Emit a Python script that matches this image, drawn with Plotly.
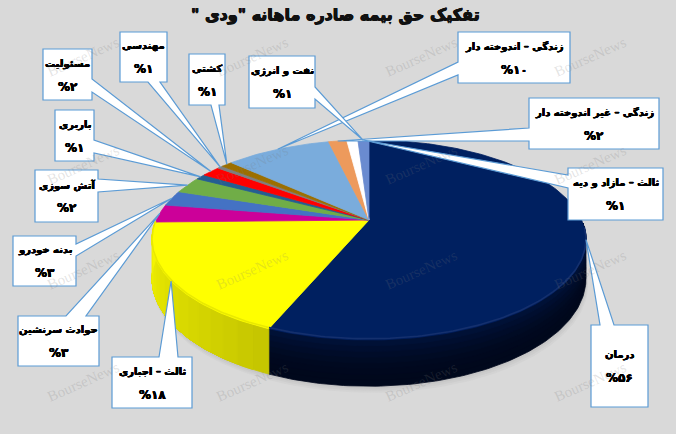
import math
import plotly.graph_objects as go

TITLE = 'تفکیک حق بیمه صادره ماهانه "ودی "\u200f'

# Slices, clockwise from the top of the pie
names = ["درمان", "ثالث – اجباری", "حوادث سرنشین", "بدنه خودرو", "آتش سوزی", "باربری",
         "مسئولیت", "مهندسی", "کشتی", "زندگی – اندوخته دار", "زندگی – غیر اندوخته دار",
         "نفت و انرژی", "ثالث – مازاد و دیه"]
shown = ["%۵۶", "%۱۸", "%۳", "%۳", "%۲", "%۱", "%۲", "%۱", "%۱", "%۱۰", "%۲", "%۱", "%۱"]
values = [56.3, 18.4, 2.9, 2.5, 2.7, 0.9, 1.7, 0.5, 1.0, 9.5, 1.65, 1.0, 1.0]
colors = ["#002060", "#ffff00", "#cc0099", "#4472c4", "#70ad47", "#255e91", "#ff0000",
          "#7f7f7f", "#9c6f00", "#7aacdc", "#ed9a5c", "#ffffff", "#6a8bd0"]

# Callout boxes: x0, y0, x1, y1, and the two points where the pointer leaves the box
boxes = [
    (591, 325, 648, 407, (600, 325), (614, 325)),
    (112, 357, 192, 408, (159, 357), (178, 357)),
    (18, 316, 99, 366, (66, 316), (86, 316)),
    (13, 236, 76, 286, (76, 244), (76, 256)),
    (35, 170, 98, 222, (98, 179), (98, 192)),
    (55, 110, 94, 161, (94, 140), (94, 153)),
    (43, 49, 92, 100, (92, 79), (92, 92)),
    (120, 32, 167, 82, (148, 82), (160, 82)),
    (189, 54, 225, 105, (211, 105), (219, 105)),
    (458, 32, 570, 83, (458, 62), (458, 75)),
    (529, 98, 659, 149, (529, 128), (529, 141)),
    (249, 56, 315, 108, (315, 87), (315, 99)),
    (568, 168, 663, 220, (568, 175), (568, 188)),
]
tip_shift = [0, 0, 0, 0, 0, 0, 0, 0, 0, 0, 0, 11, 0]

CX, CY = 369.0, 220.0
A, B, K = 212.6, 96.0, 0.2
DEPTH = 37.0

THICK = "0.35px 0 0 #000, -0.35px 0 0 #000, 0 0.3px 0 #000, 0 -0.3px 0 #000"
THICK_T = "0.5px 0 0 #111, -0.5px 0 0 #111, 0 0.5px 0 #111, 0 -0.5px 0 #111"


def rim(deg, depth=0.0):
    t = math.radians(deg)
    u, v = math.sin(t), math.cos(t)
    s = 1.0 / (1.0 + K * v)
    return CX + A * u * s, CY - B * v * s + depth * s


def arc(a, b, depth=0.0, step=1.0):
    n = max(2, int(abs(b - a) / step) + 1)
    return [rim(a + (b - a) * i / (n - 1), depth) for i in range(n)]


def mix(hexcol, f):
    r, g, b = int(hexcol[1:3], 16), int(hexcol[3:5], 16), int(hexcol[5:7], 16)
    return f"rgb({int(r * f)},{int(g * f)},{int(b * f)})"


def poly(pts, fill):
    return go.Scatter(x=[p[0] for p in pts] + [pts[0][0]], y=[p[1] for p in pts] + [pts[0][1]],
                      mode="lines", fill="toself", fillcolor=fill,
                      line=dict(color=fill, width=0.8),
                      hoverinfo="skip", showlegend=False)


fig = go.Figure()

# Angles of the slices
total = sum(values)
edges = [0.0]
for val in values:
    edges.append(edges[-1] + val / total * 360.0)
mids = [(edges[i] + edges[i + 1]) / 2 for i in range(len(values))]

# Soft shadow under the pie
for off, col in ((6, "#d3d3d3"), (4, "#cdcdcd"), (2, "#c6c6c6")):
    pts = [(x + off * 0.3, y + off) for x, y in arc(92, 272, DEPTH)]
    fig.add_trace(poly(pts, col))

# Side wall of the large slice: whole strips, darker downwards, so no seams show
A1 = edges[1]
for n in range(8, 0, -1):
    frac = n / 8
    lvl = 1.0 - frac
    col = f"rgb(0,{int(8 + 12 * lvl ** 2)},{int(28 + 34 * lvl ** 2)})"
    fig.add_trace(poly(arc(92, A1, 0) + arc(A1, 92, DEPTH * frac), col))

# Side wall of the yellow slice: strips that start further left get brighter
Y0, Y1 = edges[1], min(edges[2], 272.0)
steps = 16
for n in range(steps):
    e = Y0 + (Y1 - Y0) * n / steps
    f = 0.78 + 0.18 * n / (steps - 1)
    fig.add_trace(poly(arc(e, Y1, 0) + arc(Y1, e, DEPTH), mix("#ffff00", f)))

# Top face
for i, col in enumerate(colors):
    pts = [(CX, CY)] + arc(edges[i], edges[i + 1])
    fig.add_trace(poly(pts, col))

# Bevel along the front rim
for i, col in enumerate(colors[:2]):
    a, b = max(edges[i], 95.0), min(edges[i + 1], 272.0)
    pts = arc(a, b, -1.0)
    fig.add_trace(go.Scatter(x=[p[0] for p in pts], y=[p[1] for p in pts], mode="lines",
                             line=dict(color="#14306e" if i == 0 else "#e9e900", width=1.6),
                             hoverinfo="skip", showlegend=False))

# Callouts
shapes = []
annos = []
for i, box in enumerate(boxes):
    x0, y0, x1, y1, p, q = box
    tx, ty = rim(mids[i])
    tx += tip_shift[i]
    if p[1] == y0 and q[1] == y0:
        ring = [(x0, y0), p, (tx, ty), q, (x1, y0), (x1, y1), (x0, y1)]
    elif p[1] == y1 and q[1] == y1:
        ring = [(x0, y0), (x1, y0), (x1, y1), q, (tx, ty), p, (x0, y1)]
    elif p[0] == x0:
        ring = [(x0, y0), (x1, y0), (x1, y1), (x0, y1), q, (tx, ty), p]
    else:
        ring = [(x0, y0), (x1, y0), p, (tx, ty), q, (x1, y1), (x0, y1)]
    path = "M" + " L".join(f"{a:.1f},{b:.1f}" for a, b in ring) + " Z"
    shapes.append(dict(type="path", path=path, xref="x", yref="y", fillcolor="#ffffff",
                       line=dict(color="#5b9bd5", width=1.2), layer="above"))
    cx, cy = (x0 + x1) / 2, (y0 + y1) / 2
    annos.append(dict(x=cx, y=cy - 11, text=f"<b>{names[i]}</b>", showarrow=False,
                      font=dict(family="DejaVu Sans", size=10, color="#000000", shadow=THICK)))
    annos.append(dict(x=cx, y=cy + 12, text=f"<b>{shown[i]}</b>", showarrow=False,
                      font=dict(family="DejaVu Sans", size=12, color="#000000", shadow=THICK)))

annos.append(dict(x=335, y=14, text=f"<b>{TITLE}</b>", showarrow=False,
                  font=dict(family="DejaVu Sans", size=16, color="#111111", shadow=THICK_T)))

# Watermark
for wx in (83, 252, 421, 590):
    for wy in (57, 165, 270, 382):
        annos.append(dict(x=wx, y=wy, text="BourseNews", showarrow=False, textangle=-24,
                          font=dict(family="Liberation Serif", size=15,
                                    color="rgba(120,120,120,0.2)")))

fig.update_layout(
    width=676, height=434, margin=dict(l=0, r=0, t=0, b=0),
    paper_bgcolor="#d9d9d9", plot_bgcolor="#d9d9d9", showlegend=False,
    xaxis=dict(range=[0, 676], visible=False, fixedrange=True),
    yaxis=dict(range=[434, 0], visible=False, fixedrange=True),
    shapes=shapes, annotations=annos,
)
fig.write_html("out.html", config={"displayModeBar": False},
               post_script="document.body.style.margin='0';document.body.style.background='#d9d9d9';")
